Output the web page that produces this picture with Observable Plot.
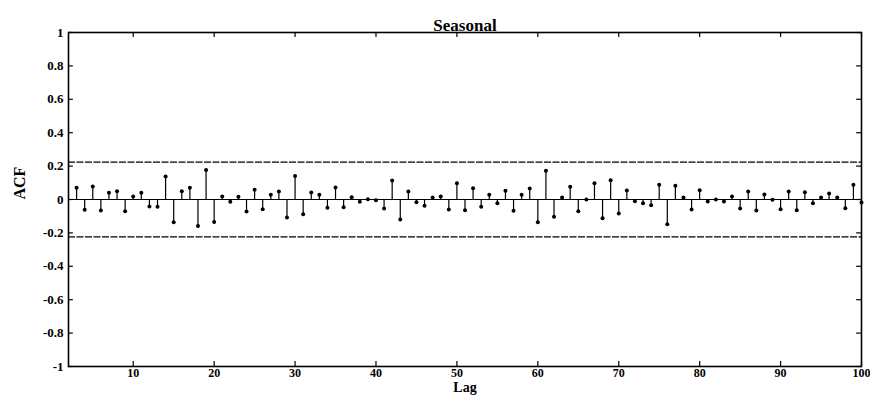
<!DOCTYPE html>
<html>
<head>
<meta charset="utf-8">
<script src="https://cdn.jsdelivr.net/npm/d3@7"></script>
<script src="https://cdn.jsdelivr.net/npm/@observablehq/plot@0.6"></script>
<style>
  html, body { margin: 0; padding: 0; background: #fff; }
</style>
</head>
<body>
<div id="chart"></div>
<script>
const title = "Seasonal";
const xLabel = "Lag";
const yLabel = "ACF";
const lags = [3,4,5,6,7,8,9,10,11,12,13,14,15,16,17,18,19,20,21,22,23,24,25,26,27,28,29,30,
  31,32,33,34,35,36,37,38,39,40,41,42,43,44,45,46,47,48,49,50,51,52,53,54,55,56,57,58,59,60,
  61,62,63,64,65,66,67,68,69,70,71,72,73,74,75,76,77,78,79,80,81,82,83,84,85,86,87,88,89,90,
  91,92,93,94,95,96,97,98,99,100];
const acf = [0.07,-0.062,0.078,-0.066,0.04,0.05,-0.07,0.018,0.04,-0.042,-0.044,0.138,-0.136,0.05,0.07,
  -0.158,0.176,-0.134,0.018,-0.014,0.016,-0.072,0.058,-0.058,0.028,0.048,-0.108,0.14,-0.088,0.042,
  0.028,-0.05,0.072,-0.046,0.014,-0.014,0.002,-0.004,-0.054,0.114,-0.12,0.048,-0.016,-0.038,0.012,
  0.018,-0.06,0.098,-0.064,0.068,-0.044,0.028,-0.022,0.052,-0.068,0.028,0.066,-0.136,0.172,-0.104,
  0.012,0.076,-0.07,0,0.098,-0.112,0.116,-0.084,0.054,-0.01,-0.022,-0.034,0.088,-0.148,0.082,0.012,
  -0.06,0.056,-0.012,0,-0.012,0.018,-0.054,0.048,-0.066,0.03,-0.002,-0.058,0.048,-0.064,0.044,
  -0.022,0.012,0.036,0.012,-0.052,0.088,-0.018];
const confBound = [0.2236, -0.2236];
const xTicks = [10,20,30,40,50,60,70,80,90,100];
const yTicks = [-1,-0.8,-0.6,-0.4,-0.2,0,0.2,0.4,0.6,0.8,1];

const data = lags.map((lag, i) => ({lag, value: acf[i]}));
const fmt = d => String(Math.round(d * 10) / 10);
const XMIN = 2, XMAX = 100, YMIN = -1, YMAX = 1;

const chart = Plot.plot({
  width: 870,
  height: 397,
  marginLeft: 68,
  marginRight: 9,
  marginTop: 32,
  marginBottom: 31,
  style: {fontFamily: "'Liberation Serif', 'DejaVu Serif', serif", fontWeight: "bold", fontSize: "13px", background: "#fff", color: "#000"},
  x: {domain: [XMIN, XMAX]},
  y: {domain: [YMIN, YMAX]},
  marks: [
    Plot.ruleY([0], {stroke: "#000", strokeWidth: 1.2}),
    Plot.ruleY(confBound, {stroke: "#000", strokeWidth: 1.3, strokeDasharray: "7,1.5"}),
    Plot.ruleX(data, {x: "lag", y1: () => 0, y2: "value", stroke: "#000", strokeWidth: 1.2}),
    Plot.dot(data, {x: "lag", y: "value", r: 2, fill: "#000", stroke: "none"}),
    // inward ticks
    Plot.ruleX(xTicks, {y1: () => YMIN, y2: () => YMIN + 0.03, stroke: "#000", strokeWidth: 1.2}),
    Plot.ruleX(xTicks, {y1: () => YMAX, y2: () => YMAX - 0.03, stroke: "#000", strokeWidth: 1.2}),
    Plot.ruleY(yTicks, {x1: () => XMIN, x2: () => XMIN + 0.6, stroke: "#000", strokeWidth: 1.2}),
    Plot.ruleY(yTicks, {x1: () => XMAX, x2: () => XMAX - 0.6, stroke: "#000", strokeWidth: 1.2}),
    Plot.frame({stroke: "#000", strokeWidth: 1.6}),
    Plot.axisX({ticks: xTicks, tickSize: 0, tickPadding: 2, tickFormat: d => String(d), label: null, fontWeight: "bold", fontSize: 12}),
    Plot.axisY({ticks: yTicks, tickSize: 0, tickPadding: 5, tickFormat: fmt, label: null, fontWeight: "bold", fontSize: 13}),
    Plot.text([title], {frameAnchor: "top", dy: -14, fontSize: 17, fontWeight: "bold"}),
    Plot.text([yLabel], {frameAnchor: "left", dx: -49, rotate: -90, fontSize: 16, fontWeight: "bold"}),
    Plot.text([xLabel], {frameAnchor: "bottom", dy: 25, fontSize: 14, fontWeight: "bold"})
  ]
});
document.getElementById("chart").appendChild(chart);
</script>
</body>
</html>
